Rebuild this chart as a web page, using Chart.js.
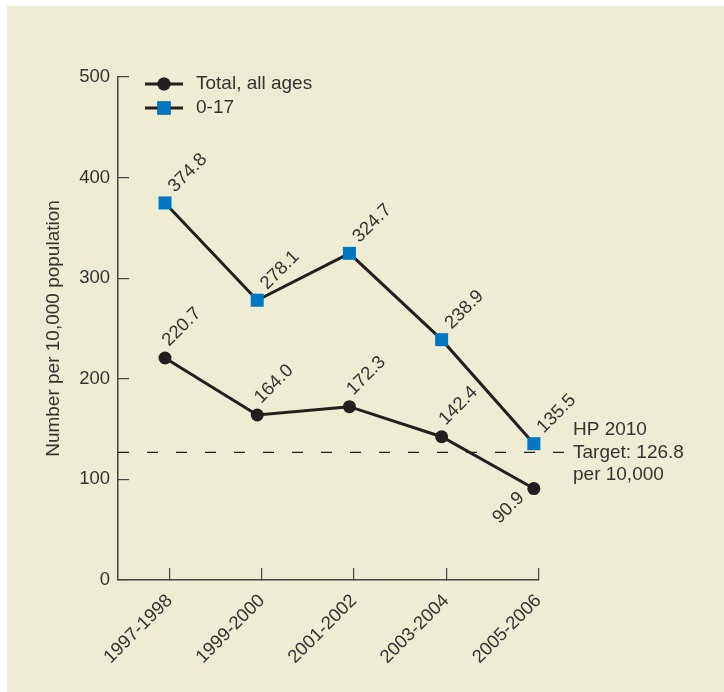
<!DOCTYPE html>
<html>
<head>
<meta charset="utf-8">
<script src="https://cdn.jsdelivr.net/npm/chart.js@4"></script>
<style>
  html, body { margin: 0; background: #fff; }
  #wrap { position: relative; width: 724px; height: 692px; }
  #panel { position: absolute; left: 7px; top: 6px; right: 0; bottom: 0; background: #eeedd4; }
  canvas { position: absolute; left: 0; top: 0; }
</style>
</head>
<body>
<div id="wrap">
  <div id="panel"></div>
  <canvas id="chart" width="724" height="692"></canvas>
</div>
<script>
const periods = ['1997-1998', '1999-2000', '2001-2002', '2003-2004', '2005-2006'];
const totalAllAges = [220.7, 164.0, 172.3, 142.4, 90.9];
const ages0to17 = [374.8, 278.1, 324.7, 238.9, 135.5];
const yTicks = [0, 100, 200, 300, 400, 500];
const hpTarget = 126.8;
const targetNote = ['HP 2010', 'Target: 126.8', 'per 10,000'];

const ink = '#231f20';
const textColor = '#333333';
const blue = '#0077c0';
const fontFamily = '"Liberation Sans", Arial, Helvetica, sans-serif';

Chart.defaults.font.family = fontFamily;
Chart.defaults.color = textColor;

// dashed HP 2010 target line with its note on the right
const targetLine = {
  id: 'targetLine',
  beforeDatasetsDraw(chart) {
    const { ctx, chartArea } = chart;
    const y = chart.scales.y.getPixelForValue(hpTarget);
    ctx.save();
    ctx.strokeStyle = ink;
    ctx.lineWidth = 1.2;
    ctx.setLineDash([11, 18]);
    ctx.beginPath();
    ctx.moveTo(chartArea.left, y);
    ctx.lineTo(chartArea.right + 26, y);
    ctx.stroke();
    ctx.setLineDash([]);
    ctx.fillStyle = textColor;
    ctx.font = '19px ' + fontFamily;
    ctx.textAlign = 'left';
    ctx.textBaseline = 'middle';
    targetNote.forEach((line, i) => {
      ctx.fillText(line, chartArea.right + 35, y + (i - 1) * 22.5);
    });
    ctx.restore();
  }
};

// rotated value labels next to each point
const valueLabels = {
  id: 'valueLabels',
  afterDatasetsDraw(chart) {
    const ctx = chart.ctx;
    chart.data.datasets.forEach((ds, di) => {
      const meta = chart.getDatasetMeta(di);
      const [dx, dy] = ds.labelOffset;
      meta.data.forEach((pt, i) => {
        const below = (ds.labelBelow || []).includes(i);
        ctx.save();
        ctx.fillStyle = textColor;
        ctx.font = '18.5px ' + fontFamily;
        ctx.translate(pt.x + (below ? -19 : dx), pt.y + (below ? 0 : dy));
        ctx.rotate(-Math.PI / 4);
        ctx.textAlign = below ? 'right' : 'left';
        ctx.textBaseline = below ? 'top' : 'alphabetic';
        ctx.fillText(ds.data[i].y.toFixed(1), 0, 0);
        ctx.restore();
      });
    });
  }
};

// legend: short line with the marker on it
const lineLegend = {
  id: 'lineLegend',
  afterDraw(chart) {
    const { ctx, chartArea } = chart;
    const x0 = chartArea.left + 27;
    chart.data.datasets.forEach((ds, i) => {
      const y = chartArea.top + 7 + i * 24;
      ctx.save();
      ctx.strokeStyle = ds.borderColor;
      ctx.lineWidth = ds.borderWidth;
      ctx.beginPath();
      ctx.moveTo(x0, y);
      ctx.lineTo(x0 + 38, y);
      ctx.stroke();
      Chart.helpers.drawPoint(ctx, {
        pointStyle: ds.pointStyle, radius: ds.pointRadius, borderWidth: 0, rotation: 0
      }, x0 + 19, y);
      ctx.fillStyle = ds.pointBackgroundColor;
      ctx.fill();
      ctx.fillStyle = textColor;
      ctx.font = '19px ' + fontFamily;
      ctx.textBaseline = 'middle';
      ctx.fillText(ds.label, x0 + 51, y);
      ctx.restore();
    });
  }
};

new Chart(document.getElementById('chart'), {
  type: 'line',
  data: {
    datasets: [
      {
        label: 'Total, all ages',
        data: totalAllAges.map((v, i) => ({ x: i, y: v })),
        borderColor: ink,
        borderWidth: 3,
        pointStyle: 'circle',
        pointRadius: 6.5,
        pointBackgroundColor: ink,
        pointBorderWidth: 0,
        clip: false,
        labelOffset: [4, -11],
        labelBelow: [4]
      },
      {
        label: '0-17',
        data: ages0to17.map((v, i) => ({ x: i, y: v })),
        borderColor: ink,
        borderWidth: 3,
        pointStyle: 'rect',
        pointRadius: 9.2,
        pointBackgroundColor: blue,
        pointBorderWidth: 0,
        clip: false,
        labelOffset: [10, -10]
      }
    ]
  },
  options: {
    responsive: false,
    animation: false,
    layout: { padding: { top: 77, right: 186, bottom: 0, left: 0 } },
    plugins: { legend: { display: false }, tooltip: { enabled: false } },
    scales: {
      x: {
        type: 'linear',
        min: -0.51,
        max: 4.045,
        afterBuildTicks: s => { s.ticks = periods.map((p, i) => ({ value: i + 0.05 })); },
        afterFit: s => { s.height = 112; },
        ticks: {
          callback: v => periods[Math.round(v)],
          autoSkip: false,
          minRotation: 45,
          maxRotation: 45,
          font: { size: 18.5 },
          color: textColor,
          padding: 22
        },
        grid: { drawOnChartArea: false, drawTicks: true, tickLength: -12, color: '#444', lineWidth: 1.2 },
        border: { display: true, color: '#444', width: 1.5 }
      },
      y: {
        min: 0,
        max: 500,
        afterBuildTicks: s => { s.ticks = yTicks.map(v => ({ value: v })); },
        afterFit: s => { s.width = 118; },
        ticks: { font: { size: 18.5 }, color: textColor, padding: 19 },
        grid: { drawOnChartArea: false, drawTicks: true, tickLength: -11, color: '#444', lineWidth: 1.2 },
        border: { display: true, color: '#444', width: 1.5 },
        title: {
          display: true,
          text: 'Number per 10,000 population',
          font: { size: 19 },
          color: textColor,
          padding: { top: 42, bottom: 0 }
        }
      }
    }
  },
  plugins: [targetLine, valueLabels, lineLegend]
});
</script>
</body>
</html>
